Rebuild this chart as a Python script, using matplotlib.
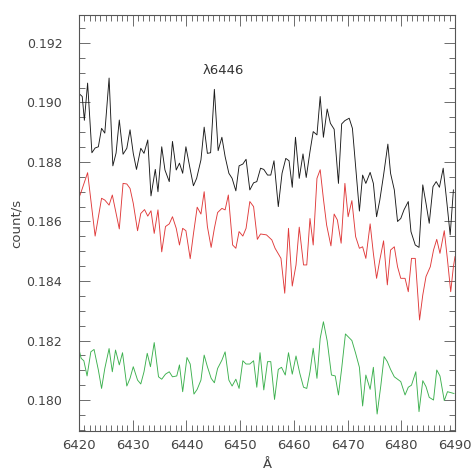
import matplotlib
matplotlib.use("Agg")
import matplotlib.pyplot as plt
from matplotlib.ticker import MultipleLocator

# ---- data ----
black_wave = [6420.0, 6420.6, 6421.0, 6421.6, 6422.4, 6423.0, 6423.6, 6424.2, 6424.8, 6425.6,
              6426.3, 6426.9, 6427.5, 6428.2, 6428.9, 6429.5, 6430.1, 6430.7, 6431.5, 6432.1,
              6432.8, 6433.4, 6434.2, 6434.7, 6435.4, 6436.0, 6436.8, 6437.4, 6438.1, 6438.7,
              6439.3, 6439.9, 6440.7, 6441.3, 6441.9, 6442.7, 6443.3, 6443.9, 6444.5, 6445.2,
              6445.9, 6446.6, 6447.2, 6447.9, 6448.5, 6449.2, 6449.8, 6450.5, 6451.1, 6451.8,
              6452.5, 6453.1, 6453.8, 6454.4, 6455.1, 6455.7, 6456.3, 6457.1, 6457.8, 6458.5,
              6459.1, 6459.7, 6460.3, 6461.0, 6461.7, 6462.3, 6463.0, 6463.6, 6464.3, 6464.9,
              6465.5, 6466.2, 6466.8, 6467.5, 6468.3, 6468.9, 6469.5, 6470.3, 6470.9, 6472.2,
              6472.8, 6473.4, 6474.2, 6474.8, 6475.4, 6476.0, 6476.7, 6477.5, 6478.0, 6478.7,
              6479.3, 6479.9, 6480.5, 6481.3, 6481.8, 6482.6, 6483.3, 6484.0, 6484.6, 6485.2,
              6485.9, 6486.5, 6487.1, 6487.8, 6488.5, 6489.1, 6489.7]
black_flux = [0.19030, 0.19020, 0.18940, 0.19065, 0.18831, 0.18847, 0.18851, 0.18913, 0.18897, 0.19082,
              0.18787, 0.18830, 0.18941, 0.18826, 0.18846, 0.18908, 0.18829, 0.18775, 0.18846, 0.18829,
              0.18874, 0.18686, 0.18775, 0.18700, 0.18851, 0.18773, 0.18734, 0.18869, 0.18773, 0.18796,
              0.18762, 0.18851, 0.18775, 0.18720, 0.18745, 0.18807, 0.18917, 0.18829, 0.18831, 0.19044,
              0.18838, 0.18883, 0.18818, 0.18762, 0.18745, 0.18703, 0.18787, 0.18793, 0.18809, 0.18706,
              0.18730, 0.18734, 0.18779, 0.18775, 0.18756, 0.18756, 0.18804, 0.18650, 0.18762, 0.18812,
              0.18804, 0.18715, 0.18883, 0.18745, 0.18827, 0.18748, 0.18835, 0.18902, 0.18891, 0.19020,
              0.18883, 0.18978, 0.18930, 0.18910, 0.18728, 0.18928, 0.18939, 0.18947, 0.18913, 0.18635,
              0.18756, 0.18728, 0.18765, 0.18728, 0.18616, 0.18672, 0.18756, 0.18860, 0.18762, 0.18706,
              0.18600, 0.18610, 0.18639, 0.18667, 0.18566, 0.18521, 0.18513, 0.18723, 0.18661, 0.18594,
              0.18717, 0.18734, 0.18715, 0.18779, 0.18661, 0.18555, 0.18706]

red_wave = [6420.0, 6420.3, 6421.6, 6423.0, 6424.2, 6424.8, 6425.6, 6426.2, 6427.5, 6428.2,
            6428.9, 6429.5, 6430.1, 6430.9, 6431.5, 6432.2, 6432.8, 6433.4, 6434.0, 6434.7,
            6435.4, 6436.1, 6436.8, 6437.4, 6438.1, 6438.7, 6439.3, 6439.9, 6440.7, 6441.3,
            6442.0, 6442.7, 6443.3, 6443.9, 6444.6, 6445.2, 6445.8, 6446.6, 6447.2, 6447.8,
            6448.6, 6449.2, 6449.8, 6450.5, 6451.1, 6451.8, 6452.5, 6453.2, 6453.8, 6454.9,
            6455.9, 6456.5, 6457.6, 6458.3, 6459.0, 6459.7, 6460.4, 6461.0, 6461.8, 6462.4,
            6463.0, 6463.6, 6464.3, 6464.9, 6465.5, 6466.1, 6466.9, 6467.5, 6468.1, 6468.8,
            6469.5, 6470.1, 6470.8, 6471.5, 6472.2, 6472.8, 6473.4, 6474.2, 6474.8, 6475.4,
            6476.0, 6476.7, 6477.4, 6478.0, 6478.7, 6479.3, 6479.9, 6480.7, 6481.3, 6481.9,
            6482.6, 6483.4, 6484.0, 6484.6, 6485.4, 6486.0, 6486.6, 6487.2, 6488.0, 6488.6,
            6489.2, 6489.7, 6490.0]
red_flux = [0.18681, 0.18694, 0.18764, 0.18551, 0.18678, 0.18672, 0.18655, 0.18689, 0.18575, 0.18728,
            0.18726, 0.18711, 0.18661, 0.18569, 0.18627, 0.18640, 0.18618, 0.18636, 0.18560, 0.18639,
            0.18498, 0.18583, 0.18592, 0.18616, 0.18577, 0.18521, 0.18577, 0.18569, 0.18475, 0.18558,
            0.18648, 0.18625, 0.18700, 0.18583, 0.18513, 0.18577, 0.18630, 0.18644, 0.18639, 0.18689,
            0.18521, 0.18510, 0.18566, 0.18551, 0.18577, 0.18667, 0.18650, 0.18540, 0.18558, 0.18555,
            0.18538, 0.18510, 0.18476, 0.18359, 0.18577, 0.18383, 0.18454, 0.18581, 0.18454, 0.18454,
            0.18610, 0.18521, 0.18745, 0.18774, 0.18676, 0.18588, 0.18518, 0.18625, 0.18605, 0.18527,
            0.18728, 0.18616, 0.18670, 0.18549, 0.18510, 0.18515, 0.18476, 0.18592, 0.18493, 0.18409,
            0.18471, 0.18535, 0.18387, 0.18504, 0.18515, 0.18448, 0.18409, 0.18409, 0.18364, 0.18476,
            0.18476, 0.18269, 0.18353, 0.18415, 0.18448, 0.18504, 0.18540, 0.18493, 0.18569, 0.18471,
            0.18364, 0.18448, 0.18482]

green_wave = [6420.0, 6420.4, 6420.9, 6421.5, 6422.2, 6422.8, 6423.6, 6424.2, 6424.8, 6425.6,
              6426.2, 6426.8, 6427.5, 6428.1, 6428.9, 6429.5, 6430.1, 6430.9, 6431.5, 6432.1,
              6432.7, 6433.3, 6434.0, 6434.8, 6435.4, 6436.1, 6436.8, 6437.4, 6438.2, 6438.7,
              6439.3, 6440.1, 6440.7, 6441.4, 6442.0, 6442.7, 6443.3, 6443.9, 6444.6, 6445.2,
              6445.8, 6446.6, 6447.2, 6447.9, 6448.5, 6449.2, 6449.8, 6450.5, 6451.1, 6451.8,
              6452.5, 6453.1, 6453.7, 6454.4, 6455.1, 6455.7, 6456.4, 6457.1, 6457.7, 6458.4,
              6459.0, 6459.7, 6460.4, 6461.1, 6461.8, 6462.4, 6463.0, 6463.6, 6464.3, 6464.9,
              6465.5, 6466.2, 6467.0, 6467.7, 6468.3, 6468.9, 6469.6, 6470.2, 6470.8, 6471.5,
              6472.2, 6472.8, 6473.4, 6474.2, 6474.8, 6475.5, 6476.2, 6476.8, 6477.4, 6478.0,
              6478.7, 6479.3, 6479.9, 6480.7, 6481.3, 6481.9, 6482.7, 6483.3, 6484.0, 6484.6,
              6485.2, 6486.0, 6486.6, 6487.2, 6488.0, 6488.6, 6489.2, 6489.8]
green_flux = [0.18170, 0.18140, 0.18132, 0.18081, 0.18162, 0.18170, 0.18101, 0.18039, 0.18106, 0.18173,
              0.18095, 0.18168, 0.18118, 0.18159, 0.18047, 0.18073, 0.18112, 0.18067, 0.18054, 0.18095,
              0.18157, 0.18112, 0.18193, 0.18078, 0.18070, 0.18087, 0.18095, 0.18078, 0.18081, 0.18118,
              0.18028, 0.18143, 0.18121, 0.18020, 0.18036, 0.18067, 0.18151, 0.18112, 0.18073, 0.18058,
              0.18106, 0.18134, 0.18162, 0.18067, 0.18047, 0.18070, 0.18039, 0.18132, 0.18121, 0.18121,
              0.18132, 0.18043, 0.18159, 0.18034, 0.18129, 0.18129, 0.18002, 0.18103, 0.18110, 0.18084,
              0.18159, 0.18087, 0.18148, 0.18090, 0.18043, 0.18039, 0.18095, 0.18174, 0.18073, 0.18207,
              0.18263, 0.18199, 0.18084, 0.18081, 0.18017, 0.18106, 0.18222, 0.18211, 0.18200, 0.18157,
              0.18110, 0.17980, 0.18084, 0.18036, 0.18110, 0.17953, 0.18050, 0.18146, 0.18129, 0.18103,
              0.18078, 0.18070, 0.18062, 0.18017, 0.18043, 0.18050, 0.18095, 0.17961, 0.18065, 0.18045,
              0.18009, 0.18000, 0.18101, 0.18081, 0.17998, 0.18028, 0.18025, 0.18022]

annotation = "λ6446"
xlabel = "Å"
ylabel = "count/s"

# ---- figure ----
fig = plt.figure(figsize=(4.72, 4.72), dpi=100)
ax = fig.add_axes([0.1674, 0.0869, 0.7966, 0.8814])

ax.plot(black_wave, black_flux, color="#1a1a1a", lw=0.65)
ax.plot(red_wave, red_flux, color="#e03a3a", lw=0.65)
ax.plot(green_wave, green_flux, color="#3cb04e", lw=0.65)

ax.set_xlim(6420, 6490)
ax.set_ylim(0.17896, 0.19294)
ax.xaxis.set_major_locator(MultipleLocator(10))
ax.xaxis.set_minor_locator(MultipleLocator(1))
ax.yaxis.set_major_locator(MultipleLocator(0.002))
ax.yaxis.set_minor_locator(MultipleLocator(0.0005))
ax.yaxis.set_major_formatter(matplotlib.ticker.FormatStrFormatter("%.3f"))

tc = "#444444"
for s in ax.spines.values():
    s.set_color("#555555")
    s.set_linewidth(0.8)
ax.tick_params(which="both", direction="in", top=True, right=True, colors="#555555",
               labelcolor=tc, width=0.6)
ax.tick_params(which="major", length=8)
ax.tick_params(which="minor", length=4)
ax.tick_params(axis="x", which="major", pad=6, labelsize=9.5)
ax.tick_params(axis="y", which="major", pad=12, labelsize=9)

ax.set_xlabel(xlabel, color=tc, fontsize=9.5, labelpad=4)
ax.set_ylabel(ylabel, color=tc, fontsize=9.5)
ax.yaxis.set_label_coords(-0.149, 0.5)

ax.text(6446.8, 0.19109, annotation, ha="center", va="center", fontsize=9.5, color="#333333")

fig.savefig("out.png", dpi=100)
